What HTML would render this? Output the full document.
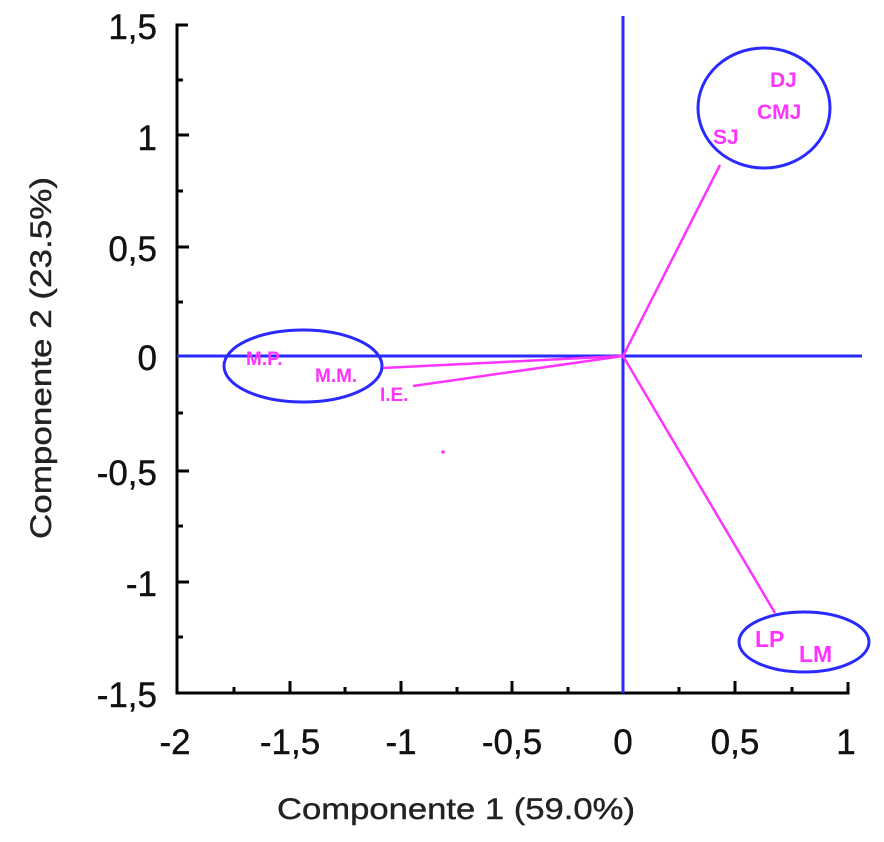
<!DOCTYPE html>
<html><head><meta charset="utf-8"><style>
html,body{margin:0;padding:0;background:#fff;}
svg{display:block;}
text{font-family:"Liberation Sans",Arial,sans-serif;}
</style></head><body>
<svg width="884" height="842" viewBox="0 0 884 842" xmlns="http://www.w3.org/2000/svg">
<g stroke="#000" stroke-width="3" fill="none">
<path d="M188 25 H177 V693 H848 V682"/>
<path d="M177 80 H183 M177 135 H189 M177 191 H183 M177 247 H189 M177 302 H183 M177 356 H189 M177 413 H183 M177 471 H189 M177 526 H183 M177 582 H189 M177 637 H183"/>
<path d="M234 693 V687 M290 693 V681 M345 693 V687 M401 693 V681 M457 693 V687 M512 693 V681 M568 693 V687 M679 693 V687 M735 693 V681 M792 693 V687"/>
</g>
<g font-size="35" fill="#111" text-anchor="end" stroke="#111" stroke-width="0.4">
<text x="157" y="39">1,5</text>
<text x="157" y="150">1</text>
<text x="157" y="261">0,5</text>
<text x="157" y="370">0</text>
<text x="157" y="485">-0,5</text>
<text x="157" y="596">-1</text>
<text x="157" y="707">-1,5</text>
</g>
<g font-size="35" fill="#111" text-anchor="middle" stroke="#111" stroke-width="0.4">
<text x="175" y="754">-2</text>
<text x="290" y="754">-1,5</text>
<text x="401" y="754">-1</text>
<text x="512" y="754">-0,5</text>
<text x="623" y="754">0</text>
<text x="735" y="754">0,5</text>
<text x="846" y="754">1</text>
</g>
<text x="456" y="819" font-size="30" fill="#222" text-anchor="middle" textLength="358" lengthAdjust="spacingAndGlyphs" stroke="#222" stroke-width="0.4">Componente 1 (59.0%)</text>
<text transform="translate(51,358) rotate(-90)" font-size="30" fill="#222" text-anchor="middle" textLength="362" lengthAdjust="spacingAndGlyphs" stroke="#222" stroke-width="0.4">Componente 2 (23.5%)</text>
<g stroke="#2a2aff" stroke-width="3" fill="none">
<line x1="177" y1="356" x2="862" y2="356"/>
<line x1="623" y1="16" x2="623" y2="693"/>
<ellipse cx="764" cy="108" rx="66" ry="60"/>
<ellipse cx="303" cy="366" rx="79" ry="36"/>
<ellipse cx="804" cy="642" rx="65" ry="30"/>
</g>
<g stroke="#ff33ff" stroke-width="2.5">
<line x1="623" y1="356" x2="720" y2="165"/>
<line x1="623" y1="356" x2="775" y2="613"/>
<line x1="623" y1="356" x2="383" y2="368"/>
<line x1="623" y1="356" x2="413" y2="386"/>
</g>
<circle cx="443" cy="452" r="1.8" fill="#ff33ff"/>
<g font-size="21" font-weight="bold" fill="#ff33ff">
<text x="770" y="87">DJ</text>
<text x="757" y="119">CMJ</text>
<text x="713" y="144">SJ</text>
<text x="246" y="365" font-size="19">M.P.</text>
<text x="315" y="382" font-size="19">M.M.</text>
<text x="380" y="401" font-size="19">I.E.</text>
<text x="755" y="647" font-size="23">LP</text>
<text x="799" y="662" font-size="23">LM</text>
</g>
</svg>
</body></html>
